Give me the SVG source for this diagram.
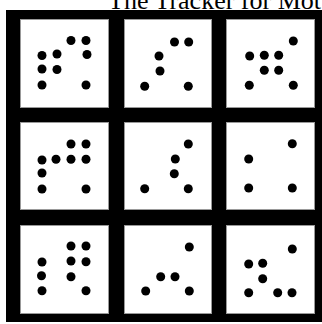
<svg xmlns="http://www.w3.org/2000/svg" width="322" height="324" viewBox="0 0 322 324">
<style>
.panel{fill:#fff;stroke:#999;stroke-width:1}
.dot{fill:#000}
.title{font-family:"Liberation Serif",serif;font-size:26px;fill:#000}
</style>
<rect x="0" y="0" width="322" height="324" fill="#fff"/>
<text class="title" x="108" y="8.5">The Tracker for Mot</text>
<rect x="6" y="10" width="316" height="312" fill="#000"/>
<g id="p1">
<rect class="panel" x="20.5" y="19.5" width="88" height="88"/>
<g class="dot"><circle cx="71" cy="40.5" r="4.5"/><circle cx="86" cy="40.5" r="4.5"/><circle cx="42" cy="55.5" r="4.5"/><circle cx="57" cy="54" r="4.5"/><circle cx="87" cy="54.5" r="4.5"/><circle cx="42" cy="69" r="4.5"/><circle cx="57" cy="69.5" r="4.5"/><circle cx="42" cy="85" r="4.5"/><circle cx="86" cy="85" r="4.5"/></g>
</g>
<g id="p2">
<rect class="panel" x="124.5" y="19.5" width="87" height="88"/>
<g class="dot"><circle cx="174.5" cy="42" r="4.5"/><circle cx="188.7" cy="42" r="4.5"/><circle cx="159" cy="56" r="4.5"/><circle cx="160" cy="71" r="4.5"/><circle cx="144.7" cy="86.3" r="4.5"/><circle cx="188.3" cy="86.3" r="4.5"/></g>
</g>
<g id="p3">
<rect class="panel" x="226.5" y="19.5" width="88" height="88"/>
<g class="dot"><circle cx="293.3" cy="41" r="4.5"/><circle cx="249.7" cy="56" r="4.5"/><circle cx="264.3" cy="55.3" r="4.5"/><circle cx="278.7" cy="55.3" r="4.5"/><circle cx="264.3" cy="70.3" r="4.5"/><circle cx="278.7" cy="70.3" r="4.5"/><circle cx="249.3" cy="85.3" r="4.5"/><circle cx="293.3" cy="85.3" r="4.5"/></g>
</g>
<g id="p4">
<rect class="panel" x="20.5" y="122.5" width="88" height="87"/>
<g class="dot"><circle cx="71" cy="144" r="4.5"/><circle cx="86" cy="144" r="4.5"/><circle cx="42" cy="160" r="4.5"/><circle cx="56" cy="159.3" r="4.5"/><circle cx="71" cy="159.3" r="4.5"/><circle cx="86" cy="159.3" r="4.5"/><circle cx="42" cy="173" r="4.5"/><circle cx="42" cy="189" r="4.5"/><circle cx="86" cy="189" r="4.5"/></g>
</g>
<g id="p5">
<rect class="panel" x="124.5" y="122.5" width="87" height="87"/>
<g class="dot"><circle cx="188.3" cy="144" r="4.5"/><circle cx="175.3" cy="159" r="4.5"/><circle cx="174.3" cy="173.7" r="4.5"/><circle cx="144.7" cy="188.7" r="4.5"/><circle cx="188.3" cy="188.7" r="4.5"/></g>
</g>
<g id="p6">
<rect class="panel" x="226.5" y="122.5" width="88" height="87"/>
<g class="dot"><circle cx="292.3" cy="143.7" r="4.5"/><circle cx="248.7" cy="159" r="4.5"/><circle cx="248.7" cy="188" r="4.5"/><circle cx="292.3" cy="188" r="4.5"/></g>
</g>
<g id="p7">
<rect class="panel" x="20.5" y="225.5" width="88" height="88"/>
<g class="dot"><circle cx="71" cy="246" r="4.5"/><circle cx="86" cy="246" r="4.5"/><circle cx="42" cy="262" r="4.5"/><circle cx="71" cy="261" r="4.5"/><circle cx="86" cy="261.7" r="4.5"/><circle cx="41.5" cy="275.7" r="4.5"/><circle cx="71" cy="276.7" r="4.5"/><circle cx="42" cy="290.7" r="4.5"/><circle cx="86" cy="290.7" r="4.5"/></g>
</g>
<g id="p8">
<rect class="panel" x="124.5" y="225.5" width="87" height="88"/>
<g class="dot"><circle cx="189.3" cy="247" r="4.5"/><circle cx="160.7" cy="276.7" r="4.5"/><circle cx="175" cy="276.7" r="4.5"/><circle cx="145.7" cy="291" r="4.5"/><circle cx="189.3" cy="291" r="4.5"/></g>
</g>
<g id="p9">
<rect class="panel" x="226.5" y="225.5" width="88" height="88"/>
<g class="dot"><circle cx="292.3" cy="249" r="4.5"/><circle cx="248.7" cy="264" r="4.5"/><circle cx="262.7" cy="263.3" r="4.5"/><circle cx="262.7" cy="278.7" r="4.5"/><circle cx="248.7" cy="292.7" r="4.5"/><circle cx="277.7" cy="292.7" r="4.5"/><circle cx="292" cy="292.7" r="4.5"/></g>
</g>
</svg>
